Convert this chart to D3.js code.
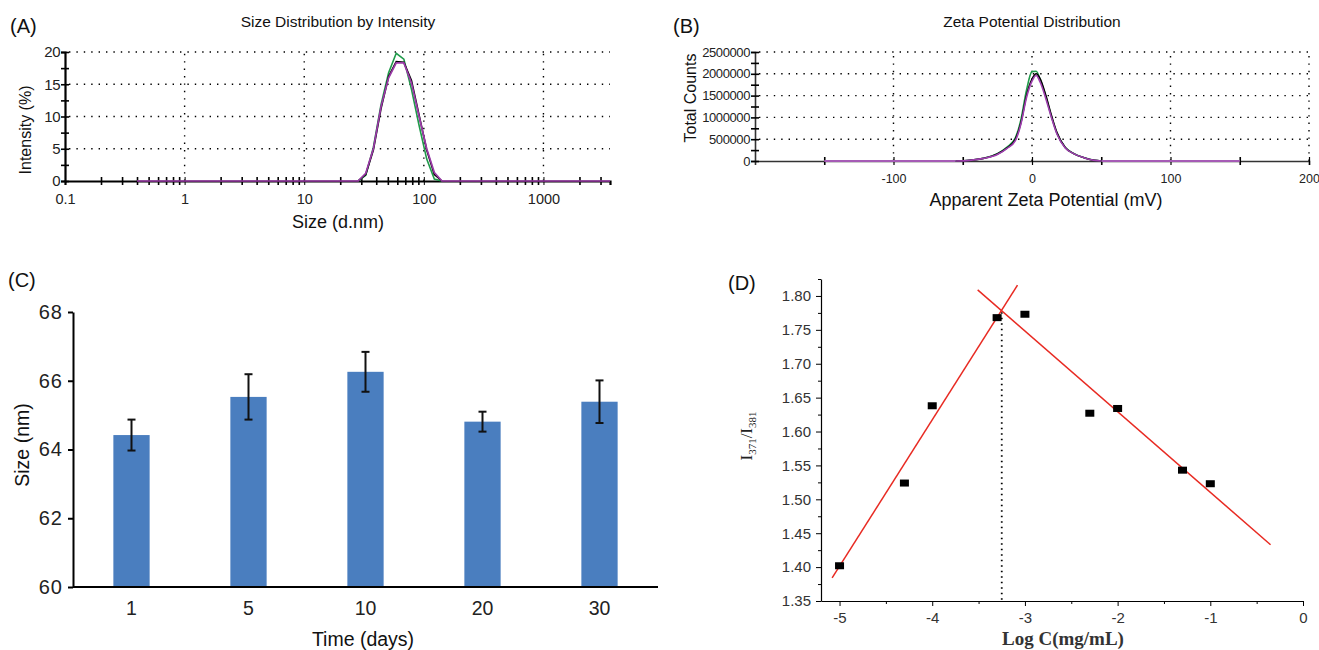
<!DOCTYPE html>
<html>
<head>
<meta charset="utf-8">
<script src="https://cdn.jsdelivr.net/npm/d3@7"></script>
<style>
	body { margin: 0; background: #fff; }
	svg { font-family: Arial, 'Liberation Sans', sans-serif; }
	svg .tick text { font-family: Arial, 'Liberation Sans', sans-serif; }
	.dotgrid { stroke: #000; stroke-width: 1.4; stroke-dasharray: 1.4,6; fill: none; }
</style>
</head>
<body>
<svg id="fig" width="1319" height="650"></svg>
<script>
// (A) size distribution by intensity, three runs
var sizeBins = [28.21, 32.67, 37.84, 43.82, 50.75, 58.77, 68.06, 78.82, 91.28, 105.7, 122.4, 141.8];
var sizePurple = [0, 1.2, 5.0, 11.5, 16.0, 18.3, 18.3, 15.2, 10.0, 5.0, 1.3, 0];
var sizeBlack = [0, 1.0, 4.8, 11.2, 16.2, 18.5, 18.4, 15.6, 10.2, 4.8, 1.0, 0];
var sizeGreen = [0, 0.9, 5.2, 11.8, 16.8, 19.8, 18.9, 14.2, 8.6, 3.4, 0.3, 0];
var sizeTicks = [0.1, 1, 10, 100, 1000];

// (B) zeta potential distribution, three runs
var zetaMv = [-55, -45, -35, -25, -18, -12, -8, -4, 0, 3, 6, 10, 14, 18, 24, 30, 38, 45, 50];
var zetaPurple = [0, 15000, 60000, 150000, 290000, 470000, 850000, 1450000, 1830000, 1960000, 1800000, 1430000, 1000000, 620000, 300000, 170000, 70000, 15000, 0];
var zetaBlack = [0, 15000, 60000, 160000, 300000, 500000, 880000, 1500000, 1880000, 2000000, 1880000, 1500000, 1050000, 650000, 310000, 170000, 70000, 15000, 0];
var zetaGreen = [0, 18000, 65000, 170000, 320000, 530000, 950000, 1620000, 2050000, 2060000, 1860000, 1480000, 1020000, 640000, 310000, 175000, 72000, 16000, 0];

// (C) size over time
var days = ['1', '5', '10', '20', '30'];
var sizeMean = [64.42, 65.53, 66.26, 64.81, 65.39];
var sizeErr = [0.45, 0.66, 0.58, 0.29, 0.62];

// (D) I371/I381 against log concentration
var logC = [-5, -4.3, -4, -3.3, -3, -2.3, -2, -1.3, -1];
var ratio = [1.402, 1.524, 1.638, 1.768, 1.773, 1.627, 1.634, 1.543, 1.523];
var fitLow = [[-5.08, 1.384], [-3.08, 1.816]];
var fitHigh = [[-3.51, 1.809], [-0.35, 1.433]];
var cmcLogC = -3.25;

var svg = d3.select('#fig');
var hyphen = function(fmt) { return function(d) { return fmt(d).replace('\u2212', '-'); }; };

function label(x, y, text, size, anchor) {
	return svg.append('text')
		.attr('x', x)
		.attr('y', y)
		.attr('font-size', size)
		.attr('text-anchor', anchor || 'middle')
		.attr('fill', '#111')
		.text(text);
}

function crossTicks(g, vertical) {
	g.selectAll('.tick line')
		.attr(vertical ? 'x1' : 'y1', -4)
		.attr(vertical ? 'x2' : 'y2', 4)
		.attr('stroke-width', 1.6);
}

function zip(xs, ys) {
	return xs.map(function(x, i) { return [x, ys[i]]; });
}

drawSize();
drawZeta();
drawStability();
drawCmc();

function drawSize() {
	var x = d3.scaleLog().domain([0.1, 3600]).range([65, 610]),
		y = d3.scaleLinear().domain([0, 20]).range([181, 52]);

	var grid = svg.append('g');
	[5, 10, 15, 20].forEach(function(v) {
		grid.append('line').attr('class', 'dotgrid')
			.attr('x1', x(0.1) + 4).attr('x2', 610).attr('y1', y(v)).attr('y2', y(v));
	});
	[1, 10, 100, 1000].forEach(function(v) {
		grid.append('line').attr('class', 'dotgrid')
			.attr('x1', x(v)).attr('x2', x(v)).attr('y1', y(0)).attr('y2', y(20));
	});

	var minor = [];
	[0.1, 1, 10, 100, 1000].forEach(function(d) {
		for (var k = 2; k <= 9; k++) if (d * k <= 3600) minor.push(d * k);
	});

	var xAxis = svg.append('g')
		.attr('transform', 'translate(0,' + y(0) + ')')
		.call(d3.axisBottom(x).tickValues(sizeTicks).tickFormat(d3.format('~g')).tickSize(4).tickPadding(9));
	xAxis.call(crossTicks, false);
	svg.append('g')
		.attr('transform', 'translate(0,' + y(0) + ')')
		.call(d3.axisBottom(x).tickValues(minor).tickFormat('').tickSize(4))
		.call(crossTicks, false)
		.select('.domain').remove();

	var yAxis = svg.append('g')
		.attr('transform', 'translate(' + x(0.1) + ',0)')
		.call(d3.axisLeft(y).tickValues([0, 5, 10, 15, 20]).tickSize(4).tickPadding(1));
	yAxis.call(crossTicks, true);
	svg.append('g')
		.attr('transform', 'translate(' + x(0.1) + ',0)')
		.call(d3.axisLeft(y).tickValues([2.5, 7.5, 12.5, 17.5]).tickFormat('').tickSize(4))
		.call(crossTicks, true)
		.select('.domain').remove();

	[xAxis, yAxis].forEach(function(g) {
		g.select('.domain').attr('stroke-width', 2.2);
		g.selectAll('text').attr('font-size', 14.5).attr('fill', '#222');
	});
	yAxis.selectAll('text').attr('font-size', 15).attr('letter-spacing', -0.5);
	xAxis.selectAll('.tick line').attr('stroke-width', 1);

	var line = d3.line()
		.x(function(d) { return x(d[0]); })
		.y(function(d) { return y(d[1]); });

	svg.append('path').datum(zip(sizeBins, sizeGreen))
		.attr('d', line).attr('fill', 'none').attr('stroke', '#1f9a4a').attr('stroke-width', 1.6);
	svg.append('path').datum(zip(sizeBins, sizeBlack))
		.attr('d', line).attr('fill', 'none').attr('stroke', '#000').attr('stroke-width', 1.6);
	// purple run also traces the baseline across the whole measured range
	var purple = [[0.4, 0]].concat(zip(sizeBins, sizePurple)).concat([[3600, 0]]);
	svg.append('path').datum(purple)
		.attr('d', line).attr('fill', 'none').attr('stroke', '#9b3aa8').attr('stroke-width', 1.7);

	label(10, 33, '(A)', 20, 'start');
	label(338, 27, 'Size Distribution by Intensity', 15.5);
	label(338, 228, 'Size (d.nm)', 18);
	label(0, 0, 'Intensity (%)', 16)
		.attr('transform', 'translate(31,130) rotate(-90)');
}

function drawZeta() {
	var x = d3.scaleLinear().domain([-200, 200]).range([755, 1309]),
		y = d3.scaleLinear().domain([0, 2500000]).range([161, 52]);

	var grid = svg.append('g');
	[500000, 1000000, 1500000, 2000000, 2500000].forEach(function(v) {
		grid.append('line').attr('class', 'dotgrid')
			.attr('x1', x(-200) + 4).attr('x2', x(200)).attr('y1', y(v)).attr('y2', y(v));
	});
	[-100, 0, 100, 200].forEach(function(v) {
		grid.append('line').attr('class', 'dotgrid')
			.attr('x1', x(v)).attr('x2', x(v)).attr('y1', y(0)).attr('y2', y(2500000));
	});

	var xAxis = svg.append('g')
		.attr('transform', 'translate(0,' + y(0) + ')')
		.call(d3.axisBottom(x).tickValues([-100, 0, 100, 200]).tickFormat(hyphen(d3.format('d'))).tickSize(4).tickPadding(9));
	xAxis.call(crossTicks, false);
	svg.append('g')
		.attr('transform', 'translate(0,' + y(0) + ')')
		.call(d3.axisBottom(x).tickValues([-150, -50, 50, 150]).tickFormat('').tickSize(4))
		.call(crossTicks, false)
		.select('.domain').remove();

	var yAxis = svg.append('g')
		.attr('transform', 'translate(' + x(-200) + ',0)')
		.call(d3.axisLeft(y).tickValues(d3.range(0, 2500001, 500000)).tickFormat(d3.format('d')).tickSize(4).tickPadding(1));
	yAxis.call(crossTicks, true);
	svg.append('g')
		.attr('transform', 'translate(' + x(-200) + ',0)')
		.call(d3.axisLeft(y).tickValues(d3.range(250000, 2500000, 500000)).tickFormat('').tickSize(4))
		.call(crossTicks, true)
		.select('.domain').remove();

	[xAxis, yAxis].forEach(function(g) {
		g.select('.domain').attr('stroke-width', 1.6).attr('stroke', '#333');
		g.selectAll('text').attr('font-size', 12.5).attr('fill', '#222');
	});
	yAxis.selectAll('text').attr('font-size', 13).attr('letter-spacing', -0.4);
	xAxis.selectAll('.tick line').attr('stroke-width', 1.2);

	var line = d3.line()
		.curve(d3.curveMonotoneX)
		.x(function(d) { return x(d[0]); })
		.y(function(d) { return y(d[1]); });

	svg.append('path').datum([[-150, 0], [zetaMv[0], 0]])
		.attr('d', line).attr('fill', 'none').attr('stroke', '#a55bb5').attr('stroke-width', 1.8);
	svg.append('path').datum([[zetaMv[zetaMv.length - 1], 0], [150, 0]])
		.attr('d', line).attr('fill', 'none').attr('stroke', '#a55bb5').attr('stroke-width', 1.8);
	svg.append('path').datum(zip(zetaMv, zetaGreen))
		.attr('d', line).attr('fill', 'none').attr('stroke', '#1f9a4a').attr('stroke-width', 1.6);
	svg.append('path').datum(zip(zetaMv, zetaBlack))
		.attr('d', line).attr('fill', 'none').attr('stroke', '#000').attr('stroke-width', 1.6);
	svg.append('path').datum(zip(zetaMv, zetaPurple))
		.attr('d', line).attr('fill', 'none').attr('stroke', '#a040b0').attr('stroke-width', 1.6);

	label(673, 33, '(B)', 20, 'start');
	label(1032, 27, 'Zeta Potential Distribution', 15.5);
	label(1046, 206, 'Apparent Zeta Potential (mV)', 18);
	label(0, 0, 'Total Counts', 16)
		.attr('transform', 'translate(696,98) rotate(-90)');
}

function drawStability() {
	var x = d3.scaleBand().domain(days).range([73, 658]).paddingInner(0.69).paddingOuter(0.345),
		y = d3.scaleLinear().domain([60, 68]).range([587, 312]);

	svg.selectAll('.size-bar')
		.data(days)
		.enter()
		.append('rect')
		.attr('class', 'size-bar')
		.attr('x', function(d) { return x(d); })
		.attr('width', x.bandwidth())
		.attr('y', function(d, i) { return y(sizeMean[i]); })
		.attr('height', function(d, i) { return y(60) - y(sizeMean[i]); })
		.attr('fill', '#4a7ebf');

	var errs = svg.selectAll('.err')
		.data(days)
		.enter()
		.append('g')
		.attr('class', 'err')
		.attr('stroke', '#111')
		.attr('stroke-width', 2);
	errs.append('line')
		.attr('x1', function(d) { return x(d) + x.bandwidth() / 2; })
		.attr('x2', function(d) { return x(d) + x.bandwidth() / 2; })
		.attr('y1', function(d, i) { return y(sizeMean[i] - sizeErr[i]); })
		.attr('y2', function(d, i) { return y(sizeMean[i] + sizeErr[i]); });
	[-1, 1].forEach(function(s) {
		errs.append('line')
			.attr('x1', function(d) { return x(d) + x.bandwidth() / 2 - 4; })
			.attr('x2', function(d) { return x(d) + x.bandwidth() / 2 + 4; })
			.attr('y1', function(d, i) { return y(sizeMean[i] + s * sizeErr[i]); })
			.attr('y2', function(d, i) { return y(sizeMean[i] + s * sizeErr[i]); });
	});

	var yAxis = svg.append('g')
		.attr('transform', 'translate(73,0)')
		.call(d3.axisLeft(y).ticks(5).tickSize(5).tickSizeOuter(0).tickPadding(5));
	yAxis.select('.domain').attr('stroke-width', 2);
	yAxis.selectAll('.tick line').attr('stroke-width', 2);
	yAxis.selectAll('text').attr('font-size', 20).attr('letter-spacing', 1).attr('fill', '#222');

	var xAxis = svg.append('g')
		.attr('transform', 'translate(0,' + y(60) + ')')
		.call(d3.axisBottom(x).tickSize(0).tickPadding(14));
	xAxis.select('.domain').attr('stroke-width', 2).attr('d', 'M73,0H658');
	xAxis.selectAll('text').attr('font-size', 19.5).attr('fill', '#222');

	label(8, 287, '(C)', 20, 'start');
	label(363, 646, 'Time (days)', 19.5);
	label(0, 0, 'Size (nm)', 19.5)
		.attr('transform', 'translate(29,445) rotate(-90)');
}

function drawCmc() {
	var x = d3.scaleLinear().domain([-5.2, 0]).range([821, 1303]),
		y = d3.scaleLinear().domain([1.35, 1.825]).range([601, 279]);

	var yAxis = svg.append('g')
		.attr('transform', 'translate(' + x(-5.2) + ',0)')
		.call(d3.axisLeft(y).tickValues(d3.range(1.35, 1.801, 0.05)).tickFormat(d3.format('.2f')).tickSize(5).tickSizeOuter(0).tickPadding(5));
	svg.append('g')
		.attr('transform', 'translate(' + x(-5.2) + ',0)')
		.call(d3.axisLeft(y).tickValues(d3.range(1.375, 1.826, 0.05)).tickFormat('').tickSize(3))
		.select('.domain').remove();

	var xAxis = svg.append('g')
		.attr('transform', 'translate(0,' + y(1.35) + ')')
		.call(d3.axisBottom(x).tickValues(d3.range(-5, 0.5, 1)).tickFormat(hyphen(d3.format('d'))).tickSize(5).tickSizeOuter(0).tickPadding(6));
	svg.append('g')
		.attr('transform', 'translate(0,' + y(1.35) + ')')
		.call(d3.axisBottom(x).tickValues(d3.range(-4.5, 0, 1)).tickFormat('').tickSize(3))
		.select('.domain').remove();

	[xAxis, yAxis].forEach(function(g) {
		g.select('.domain').attr('stroke-width', 1.2);
		g.selectAll('text').attr('font-size', 15).attr('fill', '#333');
	});

	var xm = x(cmcLogC);
	svg.append('line')
		.attr('x1', xm).attr('x2', xm)
		.attr('y1', y(1.776)).attr('y2', y(1.35))
		.attr('stroke', '#000').attr('stroke-width', 1.8).attr('stroke-dasharray', '1.5,4');

	var line = d3.line()
		.x(function(d) { return x(d[0]); })
		.y(function(d) { return y(d[1]); });
	[fitLow, fitHigh].forEach(function(f) {
		svg.append('path').datum(f)
			.attr('d', line).attr('fill', 'none').attr('stroke', '#e82a22').attr('stroke-width', 1.5);
	});

	svg.selectAll('.pt')
		.data(logC)
		.enter()
		.append('rect')
		.attr('class', 'pt')
		.attr('x', function(d) { return x(d) - 4.5; })
		.attr('y', function(d, i) { return y(ratio[i]) - 3.5; })
		.attr('width', 9)
		.attr('height', 7)
		.attr('fill', '#000');

	label(728, 290, '(D)', 20, 'start');
	label(1063, 645, 'Log C(mg/mL)', 19)
		.attr('font-family', "'Liberation Serif', 'Times New Roman', serif")
		.attr('font-weight', 'bold')
		.attr('fill', '#333');

	var yl = svg.append('text')
		.attr('transform', 'translate(752,436) rotate(-90)')
		.attr('text-anchor', 'middle')
		.attr('font-family', "'Liberation Serif', 'Times New Roman', serif")
		.attr('font-size', 17)
		.attr('fill', '#222');
	yl.append('tspan').text('I');
	yl.append('tspan').attr('font-size', 11).attr('dy', 4).text('371');
	yl.append('tspan').attr('dy', -4).text('/I');
	yl.append('tspan').attr('font-size', 11).attr('dy', 4).text('381');
}
</script>
</body>
</html>
